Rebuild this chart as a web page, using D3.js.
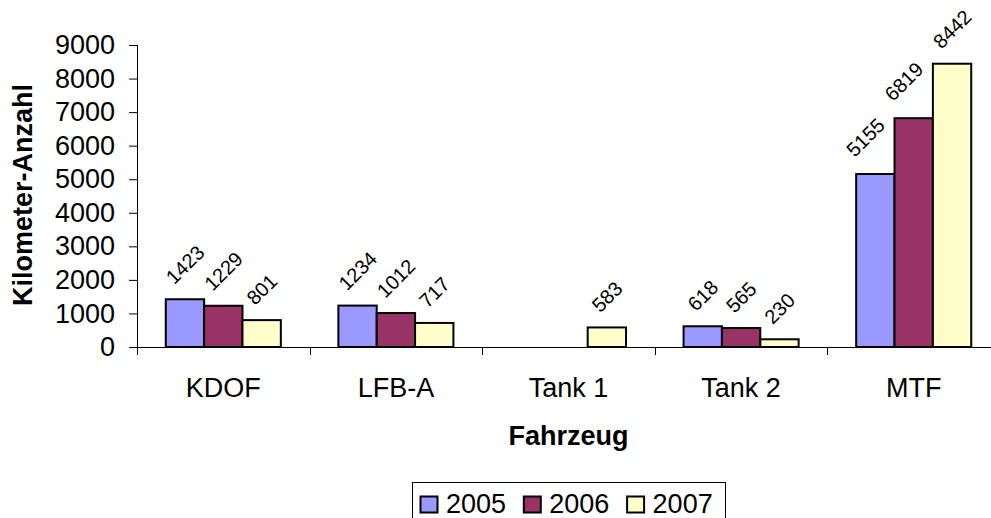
<!DOCTYPE html>
<html>
<head>
<meta charset="utf-8">
<script src="https://cdn.jsdelivr.net/npm/d3@7"></script>
<style>
    body { margin: 0; background: #fff; overflow: hidden; }
    text { font-family: "Liberation Sans", Arial, sans-serif; fill: #000; }
</style>
</head>
<body>
<div id="chart"></div>
<script>
var width = 991,
    height = 518;

// chart data
var categories = ["KDOF", "LFB-A", "Tank 1", "Tank 2", "MTF"];
var years = ["2005", "2006", "2007"];
var km2005 = [1423, 1234, null, 618, 5155];
var km2006 = [1229, 1012, null, 565, 6819];
var km2007 = [801, 717, 583, 230, 8442];
var yTicks = [0, 1000, 2000, 3000, 4000, 5000, 6000, 7000, 8000, 9000];

var colors = {
    "2005": "#9999ff",
    "2006": "#993366",
    "2007": "#ffffcc"
};

var seriesByYear = {
    "2005": km2005,
    "2006": km2006,
    "2007": km2007
};

var plot = { left: 137, right: 1000, top: 45, bottom: 347 };

var svg = d3.select("#chart")
    .append("svg")
    .attr("width", width)
    .attr("height", height);

var x0 = d3.scaleBand()
    .domain(categories)
    .range([plot.left, plot.right])
    .paddingInner(0)
    .paddingOuter(0);

var x1 = d3.scaleBand()
    .domain(years)
    .range([0, x0.bandwidth()])
    .paddingInner(0)
    .paddingOuter(0.75);

var y = d3.scaleLinear()
    .domain([0, 9000])
    .range([plot.bottom, plot.top]);

// y axis
var yAxis = d3.axisLeft(y)
    .tickValues(yTicks)
    .tickSize(8)
    .tickPadding(14)
    .tickFormat(d3.format("d"));

var gy = svg.append("g")
    .attr("transform", `translate(${plot.left}, 0)`)
    .call(yAxis);

gy.select(".domain").remove();
gy.selectAll(".tick line").attr("stroke", "#000");
gy.selectAll(".tick text")
    .style("font-size", "27px")
    .style("font-family", "'Liberation Sans', Arial, sans-serif")
    .attr("fill", "#000");

svg.append("line")
    .attr("x1", plot.left + 0.5)
    .attr("x2", plot.left + 0.5)
    .attr("y1", plot.top)
    .attr("y2", plot.bottom + 8)
    .attr("stroke", "#000");

// x axis
svg.append("line")
    .attr("x1", plot.left - 8)
    .attr("x2", plot.right)
    .attr("y1", plot.bottom + 0.5)
    .attr("y2", plot.bottom + 0.5)
    .attr("stroke", "#000");

svg.append("g")
    .selectAll("line")
    .data(categories.slice(1))
    .enter()
    .append("line")
    .attr("x1", d => Math.round(x0(d)) + 0.5)
    .attr("x2", d => Math.round(x0(d)) + 0.5)
    .attr("y1", plot.bottom)
    .attr("y2", plot.bottom + 8)
    .attr("stroke", "#000");

svg.append("g")
    .selectAll("text")
    .data(categories)
    .enter()
    .append("text")
    .attr("x", d => x0(d) + x0.bandwidth() / 2)
    .attr("y", 397)
    .attr("text-anchor", "middle")
    .style("font-size", "27px")
    .text(d => d);

// bars
var rows = [];
categories.forEach(function (c, i) {
    years.forEach(function (yr, j) {
        rows.push({ cat: c, year: yr, idx: i, pos: j, value: seriesByYear[yr][i] });
    });
});
var shown = rows.filter(d => d.value != null);

svg.append("g")
    .selectAll("rect")
    .data(shown)
    .enter()
    .append("rect")
    .attr("x", d => x0(d.cat) + x1(d.year))
    .attr("y", d => y(d.value))
    .attr("width", x1.bandwidth())
    .attr("height", d => y(0) - y(d.value))
    .attr("fill", d => colors[d.year])
    .attr("stroke", "#000")
    .attr("stroke-width", 2);

// value labels, rotated -45deg above each bar
var labelSize = 20,
    labelGap = 14;
svg.append("g")
    .selectAll("text")
    .data(shown)
    .enter()
    .append("text")
    .style("font-size", labelSize + "px")
    .attr("text-anchor", "middle")
    .attr("dy", "0.36em")
    .text(d => d.value)
    .attr("transform", function (d) {
        var L = this.getComputedTextLength();
        var h = labelSize * 0.72;
        var ext = (L + h) * Math.SQRT1_2;
        var cx = x0(d.cat) + x1(d.year) + x1.bandwidth() / 2;
        var cy = y(d.value) - labelGap - ext / 2;
        // nudge left when the neighbouring bar is taller than the label
        var next = seriesByYear[years[d.pos + 1]];
        if (next && next[d.idx] != null && y(next[d.idx]) < cy + ext / 2) {
            cx -= 10;
            cy -= 2;
        }
        return `translate(${cx}, ${cy}) rotate(-45)`;
    });

// axis titles
svg.append("text")
    .attr("x", (plot.left + plot.right) / 2)
    .attr("y", 445)
    .attr("text-anchor", "middle")
    .style("font-size", "27px")
    .style("font-weight", "bold")
    .text("Fahrzeug");

svg.append("text")
    .attr("transform", "rotate(-90)")
    .attr("x", -195)
    .attr("y", 32)
    .attr("text-anchor", "middle")
    .style("font-size", "27px")
    .style("font-weight", "bold")
    .text("Kilometer-Anzahl");

// legend
var legend = svg.append("g");

legend.append("rect")
    .attr("x", 412.5)
    .attr("y", 482.5)
    .attr("width", 313)
    .attr("height", 42)
    .attr("fill", "#fff")
    .attr("stroke", "#000");

var item = legend.selectAll("g")
    .data(years)
    .enter()
    .append("g")
    .attr("transform", (d, i) => `translate(${420 + i * 103.3}, 0)`);

item.append("rect")
    .attr("x", 0.5)
    .attr("y", 496.5)
    .attr("width", 17)
    .attr("height", 16)
    .attr("fill", d => colors[d])
    .attr("stroke", "#000")
    .attr("stroke-width", 2);

item.append("text")
    .attr("x", 26)
    .attr("y", 513)
    .style("font-size", "27px")
    .text(d => d);
</script>
</body>
</html>
